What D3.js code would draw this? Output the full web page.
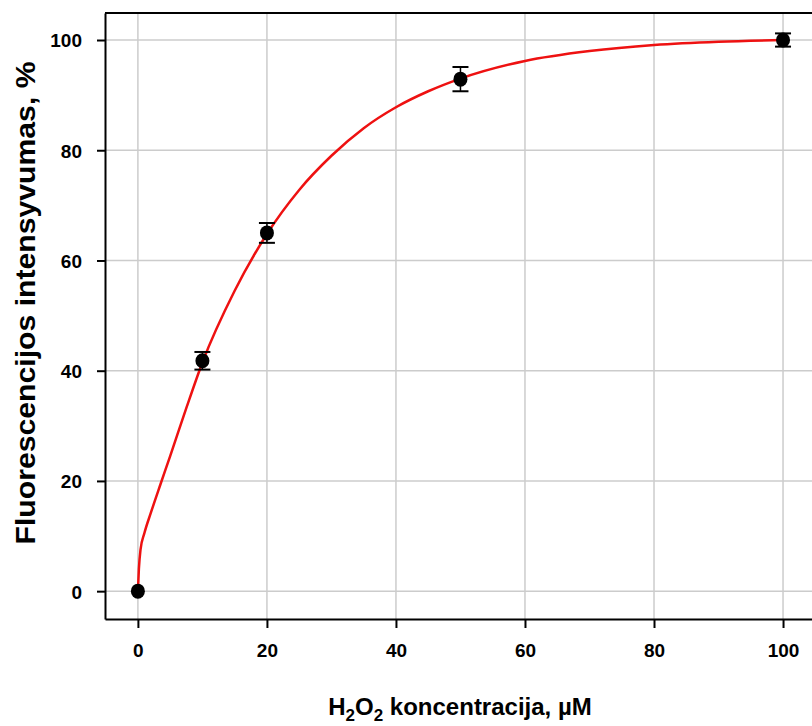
<!DOCTYPE html>
<html>
<meta charset="utf-8">
<style>
  body { margin: 0; background: #fff; }
  svg { width: 812px; height: 726px; display: block; }
  text { font-family: "Liberation Sans", Arial, sans-serif; font-weight: bold; fill: #000; }
</style>
<body>
  <svg></svg>
</body>
<script src="https://d3js.org/d3.v7.min.js"></script>
<script>
  var width = 812, height = 726;
  var plot = {left: 105, top: 13, right: 814, bottom: 619};

  // measured points with error bars
  var conc = [0, 10, 20, 50, 100];
  var intensity = [0, 41.8, 65.0, 92.9, 100];
  var errors = [0.3, 1.6, 1.8, 2.2, 1.2];

  // fitted red curve
  var fitX = [0, 0.15, 0.4, 1, 2, 3.5, 5, 7.5, 10, 15, 20, 25, 30, 35, 40, 45, 50, 60, 70, 80, 90, 100];
  var fitY = [0, 4, 7.5, 10.5, 14.2, 19.4, 24.5, 33.2, 41.5, 54.5, 64.8, 72.8, 79, 84, 87.8, 90.7, 93, 96.2, 98, 99.1, 99.7, 100];

  var xTicks = [0, 20, 40, 60, 80, 100];
  var yTicks = [0, 20, 40, 60, 80, 100];

  var svg = d3.select("svg");

  var xScale = d3.scaleLinear().domain([-5.1, 104.8]).range([plot.left, plot.right]);
  var yScale = d3.scaleLinear().domain([-5.05, 104.9]).range([plot.bottom, plot.top]);

  // grid
  svg.append("g").selectAll("line").data(xTicks).enter().append("line")
    .attr("x1", function(d) { return xScale(d); }).attr("x2", function(d) { return xScale(d); })
    .attr("y1", plot.top).attr("y2", plot.bottom)
    .attr("stroke", "#cccccc").attr("stroke-width", 1.5);
  svg.append("g").selectAll("line").data(yTicks).enter().append("line")
    .attr("y1", function(d) { return yScale(d); }).attr("y2", function(d) { return yScale(d); })
    .attr("x1", plot.left).attr("x2", plot.right)
    .attr("stroke", "#cccccc").attr("stroke-width", 1.5);

  // axes
  var xAxis = d3.axisBottom(xScale).tickValues(xTicks).tickSize(9).tickPadding(16).tickSizeOuter(0);
  var gx = svg.append("g").attr("transform", "translate(0," + plot.bottom + ")").call(xAxis);
  var yAxis = d3.axisLeft(yScale).tickValues(yTicks).tickSize(8).tickPadding(15).tickSizeOuter(0);
  var gy = svg.append("g").attr("transform", "translate(" + plot.left + ",0)").call(yAxis);

  [gx, gy].forEach(function(g) {
    g.select(".domain").attr("stroke", "#000").attr("stroke-width", 2);
    g.selectAll(".tick line").attr("stroke", "#000").attr("stroke-width", 2);
    g.selectAll(".tick text").style("font-size", "19px").style("font-family", "Liberation Sans, Arial, sans-serif")
      .style("font-weight", "bold").attr("fill", "#000");
  });
  gy.selectAll(".tick text").attr("dy", "0.36em");

  // top border
  svg.append("line").attr("x1", plot.left).attr("x2", plot.right)
    .attr("y1", plot.top).attr("y2", plot.top).attr("stroke", "#000").attr("stroke-width", 2);

  // fitted curve
  var fitData = fitX.map(function(x, i) { return [x, fitY[i]]; });
  var line = d3.line()
    .x(function(d) { return xScale(d[0]); })
    .y(function(d) { return yScale(d[1]); })
    .curve(d3.curveMonotoneX);
  svg.append("path").datum(fitData).attr("d", line)
    .attr("fill", "none").attr("stroke", "#ee1111").attr("stroke-width", 2.5);

  // error bars + points
  var pts = conc.map(function(x, i) { return {x: x, y: intensity[i], e: errors[i]}; });
  var eb = svg.append("g").selectAll("g").data(pts.filter(function(d) { return d.x > 0; })).enter().append("g");
  eb.append("line")
    .attr("x1", function(d) { return xScale(d.x); }).attr("x2", function(d) { return xScale(d.x); })
    .attr("y1", function(d) { return yScale(d.y - d.e); }).attr("y2", function(d) { return yScale(d.y + d.e); })
    .attr("stroke", "#000").attr("stroke-width", 1.5);
  [-1, 1].forEach(function(s) {
    eb.append("line")
      .attr("x1", function(d) { return xScale(d.x) - 8; }).attr("x2", function(d) { return xScale(d.x) + 8; })
      .attr("y1", function(d) { return yScale(d.y + s * d.e); }).attr("y2", function(d) { return yScale(d.y + s * d.e); })
      .attr("stroke", "#000").attr("stroke-width", 2);
  });
  svg.append("g").selectAll("ellipse").data(pts).enter().append("ellipse")
    .attr("cx", function(d) { return xScale(d.x); })
    .attr("cy", function(d) { return yScale(d.y); })
    .attr("rx", 7).attr("ry", 7.5)
    .attr("fill", "#000");

  // axis titles
  var xt = svg.append("text").attr("x", 460).attr("y", 715).attr("text-anchor", "middle").style("font-size", "24px");
  xt.append("tspan").text("H");
  xt.append("tspan").text("2").style("font-size", "17px").attr("dy", 6);
  xt.append("tspan").text("O").attr("dy", -6);
  xt.append("tspan").text("2").style("font-size", "17px").attr("dy", 6);
  xt.append("tspan").text(" koncentracija, µM").attr("dy", -6);

  svg.append("text")
    .attr("transform", "translate(35,303) rotate(-90)")
    .attr("text-anchor", "middle")
    .attr("textLength", 483)
    .attr("lengthAdjust", "spacingAndGlyphs")
    .style("font-size", "27px")
    .text("Fluorescencijos intensyvumas, %");
</script>
</html>
